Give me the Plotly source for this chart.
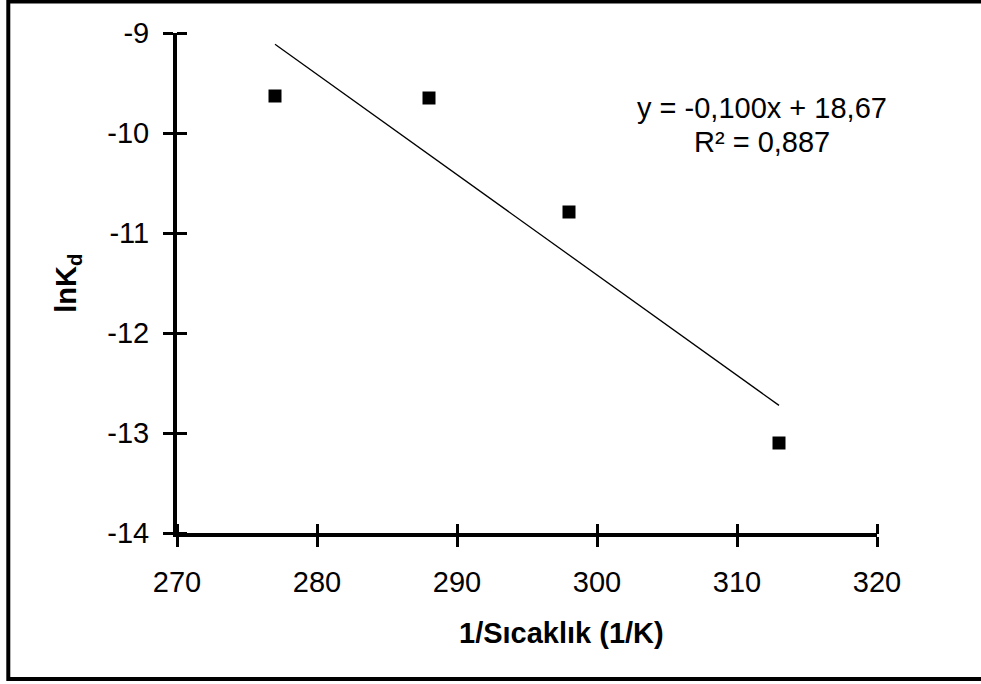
import numpy as np
import plotly.graph_objects as go

# Measured points
temperature = [277, 288, 298, 313]
ln_kd = [-9.63, -9.65, -10.79, -13.10]

# Linear fit shown on the chart
slope = -0.1003
intercept = 18.67
r_squared = 0.887

x_ticks = [270, 280, 290, 300, 310, 320]
y_ticks = [-14, -13, -12, -11, -10, -9]
y_tick_text = [str(v) for v in y_ticks]  # plain hyphen minus

FONT = "Liberation Sans, Arial, sans-serif"

# plot-area size in px, used to offset the inner tick halves
PLOT_W, PLOT_H = 700, 500
TICK_LEN = 10

fit_x = np.array([min(temperature), max(temperature)])
fit_y = slope * fit_x + intercept

fig = go.Figure()
fig.add_trace(go.Scatter(
    x=fit_x, y=fit_y, mode="lines",
    line=dict(color="black", width=1.3),
    hoverinfo="skip", showlegend=False,
))
fig.add_trace(go.Scatter(
    x=temperature, y=ln_kd, mode="markers",
    marker=dict(symbol="square", size=13, color="black"),
    showlegend=False,
))
# invisible trace on the overlay axes that carry the inner tick halves
fig.add_trace(go.Scatter(
    x=temperature, y=ln_kd, mode="markers", xaxis="x2", yaxis="y2",
    marker=dict(opacity=0), hoverinfo="skip", showlegend=False,
))

def fmt(v, nd):
    return f"{v:.{nd}f}".replace(".", ",")

eq_line = f"y = {fmt(slope, 3)}x + {fmt(intercept, 2)}"
r2_line = f"R² = {fmt(r_squared, 3)}"

axis_common = dict(
    showgrid=False, zeroline=False,
    tickcolor="black", tickwidth=3, ticklen=TICK_LEN,
)

fig.update_layout(
    width=981, height=684,
    margin=dict(l=177, r=104, t=33, b=151),
    paper_bgcolor="white", plot_bgcolor="white",
    font=dict(family=FONT, color="black", size=29),
    xaxis=dict(
        range=[270, 320], tickvals=x_ticks, ticks="outside",
        showline=True, linecolor="black", linewidth=4,
        tickfont=dict(size=29), ticklabelstandoff=10,
        **axis_common,
    ),
    yaxis=dict(
        range=[-14, -9], tickvals=y_ticks, ticktext=y_tick_text,
        ticks="outside",
        showline=True, linecolor="black", linewidth=4,
        tickfont=dict(size=29), ticklabelstandoff=8,
        **axis_common,
    ),
    # axes shifted one tick length into the plot so their outside ticks
    # complete the crossing tick marks
    xaxis2=dict(
        overlaying="x", anchor="free", position=TICK_LEN / PLOT_H,
        side="bottom", range=[270, 320], tickvals=x_ticks,
        showticklabels=False, ticks="outside", showline=False,
        **axis_common,
    ),
    yaxis2=dict(
        overlaying="y", anchor="free", position=TICK_LEN / PLOT_W,
        side="left", range=[-14, -9], tickvals=y_ticks,
        showticklabels=False, ticks="outside", showline=False,
        **axis_common,
    ),
    annotations=[
        dict(x=311.8, y=-9.75, xref="x", yref="y", text=eq_line,
             showarrow=False, xanchor="center", yanchor="middle",
             font=dict(size=29)),
        dict(x=311.8, y=-10.09, xref="x", yref="y", text=r2_line,
             showarrow=False, xanchor="center", yanchor="middle",
             font=dict(size=29)),
        dict(x=0.549, y=-0.2, xref="paper", yref="paper",
             text="<b>1/Sıcaklık (1/K)</b>", showarrow=False,
             xanchor="center", yanchor="middle", font=dict(size=29)),
        dict(x=-0.156, y=0.5, xref="paper", yref="paper",
             text="<b>lnK<sub>d</sub></b>", showarrow=False, textangle=-90,
             xanchor="center", yanchor="middle", font=dict(size=29)),
    ],
    shapes=[
        dict(type="rect", xref="paper", yref="paper",
             x0=-0.241, x1=1.16, y0=-0.292, y1=1.063,
             line=dict(color="black", width=4), fillcolor="rgba(0,0,0,0)",
             layer="below"),
    ],
)

fig.write_html("out.html")
